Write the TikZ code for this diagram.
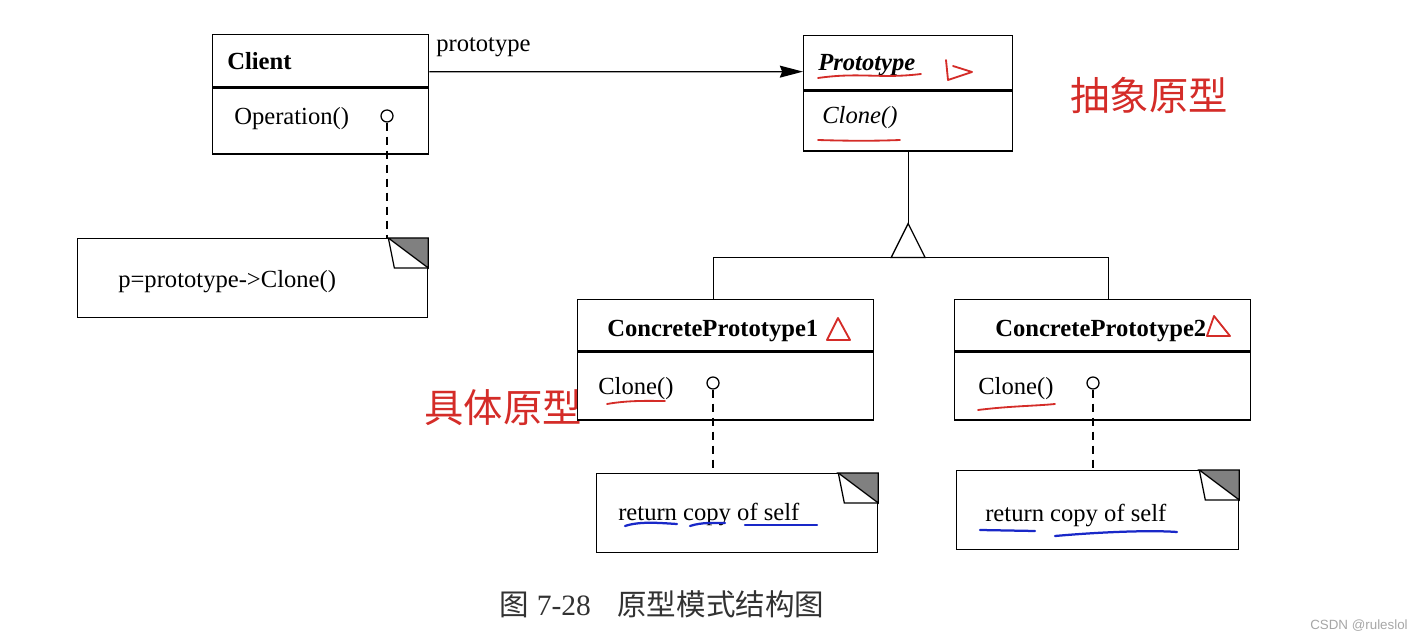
\documentclass[tikz,border=0pt]{standalone}
\usepackage{fontspec}
\setmainfont{Liberation Serif}
\newfontfamily\cjk{Noto Sans CJK SC}
\newfontfamily\wmfont{Liberation Sans}
\usetikzlibrary{arrows.meta}

\definecolor{markred}{RGB}{212,44,40}
\definecolor{markblue}{RGB}{25,40,200}
\definecolor{foldgray}{RGB}{128,128,128}
\definecolor{captiongray}{RGB}{50,50,50}

\tikzset{
  classbox/.style={draw, line width=0.9pt, rectangle, inner sep=0pt, anchor=north west},
  notebox/.style={draw, line width=0.9pt, rectangle, inner sep=0pt, anchor=north west, minimum height=1.975cm},
  txt/.style={inner sep=0pt, anchor=base west, font=\fontsize{17.5}{21}\selectfont},
  lolli/.style={circle, draw, line width=0.9pt, minimum size=0.3cm, inner sep=0pt},
  noteline/.style={line width=0.9pt, dash pattern=on 0.2cm off 0.15cm},
  redmark/.style={draw=markred, line width=1.3pt, line cap=round, line join=round},
  bluemark/.style={draw=markblue, line width=1.6pt, line cap=round},
  redlabel/.style={inner sep=0pt, anchor=west, text=markred, font=\cjk\fontsize{28}{32}\selectfont}
}

\newcommand{\notefold}[1]{%
  \filldraw[fill=foldgray, line width=0.9pt] ([xshift=-1cm]#1.north east) -- (#1.north east) -- ([yshift=-0.75cm]#1.north east) -- cycle;
  \draw[line width=0.9pt] ([xshift=-1cm]#1.north east) -- ([xshift=-0.85cm,yshift=-0.75cm]#1.north east) -- ([yshift=-0.75cm]#1.north east);
}

\begin{document}
\begin{tikzpicture}[x=0.025cm, y=-0.025cm]
\useasboundingbox (0,0) rectangle (1414,642);

% Client
\node (clientH) [classbox, minimum width=5.4cm, minimum height=1.3cm] at (212,34) {};
\node (clientB) [classbox, minimum width=5.4cm, minimum height=1.65cm] at (clientH.south west) {};
\node (clientT) [txt] at (227,70) {\textbf{Client}};
\node (clientOp) [txt] at (234,125) {Operation()};
\node (clientL) [lolli] at (387,116) {};

% Prototype
\node (protoH) [classbox, minimum width=5.225cm, minimum height=1.35cm] at (803,35) {};
\node (protoB) [classbox, minimum width=5.225cm, minimum height=1.5cm] at (protoH.south west) {};
\node (protoT) [txt] at (818,71) {\textbf{\textit{Prototype}}};
\node (protoOp) [txt] at (822,124) {\textit{Clone()}};

% association
\draw[line width=0.9pt, -{Stealth[length=0.58cm, width=0.3cm, inset=0.06cm]}] ([yshift=-0.275cm]clientH.east) -- ([yshift=-0.225cm]protoH.west);
\node (assocT) [txt] at (436,52) {prototype};

% ConcretePrototype1
\node (cp1H) [classbox, minimum width=7.4cm, minimum height=1.275cm] at (577,299) {};
\node (cp1B) [classbox, minimum width=7.4cm, minimum height=1.7cm] at (cp1H.south west) {};
\node (cp1T) [txt] at (607,337) {\textbf{ConcretePrototype1}};
\node (cp1Op) [txt] at (598,395) {Clone()};
\node (cp1L) [lolli] at (713,383) {};

% ConcretePrototype2
\node (cp2H) [classbox, minimum width=7.4cm, minimum height=1.275cm] at (954,299) {};
\node (cp2B) [classbox, minimum width=7.4cm, minimum height=1.7cm] at (cp2H.south west) {};
\node (cp2T) [txt] at (995,337) {\textbf{ConcretePrototype2}};
\node (cp2Op) [txt] at (978,395) {Clone()};
\node (cp2L) [lolli] at (1093,383) {};

% generalization
\draw[line width=0.9pt] (protoB.south) -- ++(0,72) coordinate (apex);
\draw[line width=0.9pt] (apex) -- ++(-17,34) coordinate (baseL) -- ++(34,0) coordinate (baseR) -- cycle;
\draw[line width=0.9pt] ([xshift=-0.3cm]cp1H.north) |- (baseL);
\draw[line width=0.9pt] ([xshift=0.15cm]cp2H.north) |- (baseR);

% notes
\node (noteC) [notebox, minimum width=8.75cm] at (77,238) {};
\node (note1) [notebox, minimum width=7.025cm] at (596,473) {};
\node (note2) [notebox, minimum width=7.05cm] at (956,470) {};
\notefold{noteC}
\notefold{note1}
\notefold{note2}
\node (noteCT) [txt] at (118,288) {p=prototype->Clone()};
\node (note1T) [txt] at (618,520) {return copy of self};
\node (note2T) [txt] at (985,521) {return copy of self};

\draw[noteline] (clientL.south) -- (clientL |- noteC.north);
\draw[noteline] (cp1L.south) -- (cp1L |- note1.north);
\draw[noteline] (cp2L.south) -- (cp2L |- note2.north);

% hand marks
\draw[redmark] (818,78) .. controls (860,72) and (880,79) .. (921,74);
\draw[redmark] (946,60) -- (948,80) -- (972,72) -- (953,66);
\draw[redmark] (818,140) .. controls (850,141) and (875,141) .. (900,140);
\draw[redmark] (838,318) -- (827,340) -- (850,340) -- cycle;
\draw[redmark] (607,404) .. controls (630,400) and (650,401) .. (665,401);
\draw[redmark] (1214,316) -- (1207,336) -- (1230,336) -- cycle;
\draw[redmark] (978,410) .. controls (1010,406) and (1035,406) .. (1055,404);
\draw[bluemark] (625,526) .. controls (640,521) and (660,523) .. (677,524);
\draw[bluemark] (690,526) .. controls (702,522) and (715,523) .. (725,523);
\draw[bluemark] (745,525) -- (817,525);
\draw[bluemark] (980,530) -- (1035,531);
\draw[bluemark] (1055,536) .. controls (1100,532) and (1150,530) .. (1177,532);

\node (absLabel) [redlabel] at (1070,95) {抽象原型};
\node (conLabel) [redlabel] at (424,408) {具体原型};

% caption
\node (caption) [inner sep=0pt, text=captiongray, font=\fontsize{21}{25}\selectfont] at (662,604) {{\cjk 图} 7-28\hspace{0.9em}{\cjk 原型模式结构图}};
\node (wm) [inner sep=0pt, anchor=east, text=gray!70, font=\wmfont\fontsize{9.5}{11}\selectfont] at (1408,626) {CSDN @ruleslol};
\end{tikzpicture}
\end{document}
